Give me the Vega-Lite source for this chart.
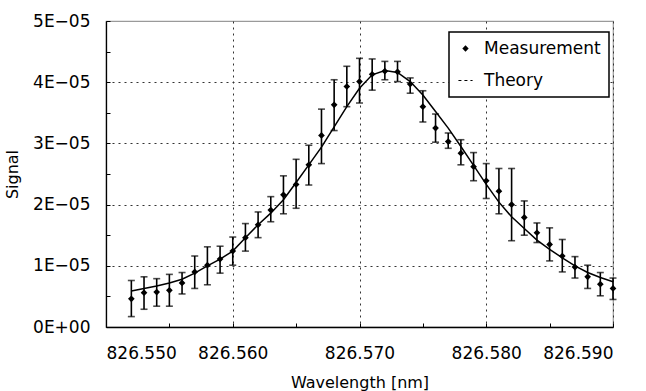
{
  "$schema": "https://vega.github.io/schema/vega-lite/v6.json",
  "autosize": "none",
  "width": 507,
  "height": 306,
  "padding": {"left": 106, "top": 21, "right": 33, "bottom": 64},
  "background": "white",
  "config": {
    "font": "DejaVu Sans",
    "view": {"stroke": "#9a9a9a", "strokeWidth": 1.2},
    "axis": {
      "domainColor": "black",
      "domainWidth": 1.3,
      "tickColor": "black",
      "tickWidth": 1,
      "labelColor": "black",
      "titleColor": "black",
      "labelFont": "DejaVu Sans",
      "titleFont": "DejaVu Sans",
      "labelFontSize": 17,
      "titleFontSize": 16,
      "titleFontWeight": "normal",
      "gridColor": "#333333",
      "gridDash": [2, 4],
      "gridWidth": 1
    },
    "legend": {
      "orient": "none",
      "legendX": 343,
      "legendY": 11,
      "labelFontSize": 17,
      "labelFont": "DejaVu Sans",
      "labelColor": "black",
      "fillColor": "white",
      "strokeColor": "black",
      "strokeWidth": 1.5,
      "padding": 8,
      "rowPadding": 14,
      "labelOffset": 10,
      "symbolSize": 40
    }
  },
  "data": {
    "values": [
      {"wavelength": 826.552, "signal": 4.6e-6, "lo": 1.7e-6, "hi": 7.6e-6, "theory": 5.9e-6},
      {"wavelength": 826.553, "signal": 5.6e-6, "lo": 2.9e-6, "hi": 8.2e-6, "theory": 6.3e-6},
      {"wavelength": 826.554, "signal": 5.7e-6, "lo": 3.4e-6, "hi": 7.9e-6, "theory": 6.7e-6},
      {"wavelength": 826.555, "signal": 6.0e-6, "lo": 3.4e-6, "hi": 8.6e-6, "theory": 7.2e-6},
      {"wavelength": 826.556, "signal": 7.2e-6, "lo": 5.4e-6, "hi": 8.9e-6, "theory": 7.8e-6},
      {"wavelength": 826.557, "signal": 9.0e-6, "lo": 6.3e-6, "hi": 1.16e-5, "theory": 8.8e-6},
      {"wavelength": 826.558, "signal": 1.01e-5, "lo": 6.9e-6, "hi": 1.31e-5, "theory": 1.0e-5},
      {"wavelength": 826.559, "signal": 1.11e-5, "lo": 8.8e-6, "hi": 1.32e-5, "theory": 1.11e-5},
      {"wavelength": 826.560, "signal": 1.24e-5, "lo": 1.01e-5, "hi": 1.47e-5, "theory": 1.24e-5},
      {"wavelength": 826.561, "signal": 1.46e-5, "lo": 1.24e-5, "hi": 1.69e-5, "theory": 1.46e-5},
      {"wavelength": 826.562, "signal": 1.67e-5, "lo": 1.46e-5, "hi": 1.88e-5, "theory": 1.67e-5},
      {"wavelength": 826.563, "signal": 1.91e-5, "lo": 1.72e-5, "hi": 2.13e-5, "theory": 1.86e-5},
      {"wavelength": 826.564, "signal": 2.16e-5, "lo": 1.85e-5, "hi": 2.47e-5, "theory": 2.08e-5},
      {"wavelength": 826.565, "signal": 2.33e-5, "lo": 1.94e-5, "hi": 2.74e-5, "theory": 2.36e-5},
      {"wavelength": 826.566, "signal": 2.65e-5, "lo": 2.32e-5, "hi": 2.97e-5, "theory": 2.65e-5},
      {"wavelength": 826.567, "signal": 3.13e-5, "lo": 2.67e-5, "hi": 3.56e-5, "theory": 2.94e-5},
      {"wavelength": 826.568, "signal": 3.63e-5, "lo": 3.21e-5, "hi": 4.04e-5, "theory": 3.27e-5},
      {"wavelength": 826.569, "signal": 3.93e-5, "lo": 3.60e-5, "hi": 4.26e-5, "theory": 3.60e-5},
      {"wavelength": 826.570, "signal": 4.01e-5, "lo": 3.66e-5, "hi": 4.39e-5, "theory": 3.90e-5},
      {"wavelength": 826.571, "signal": 4.13e-5, "lo": 3.87e-5, "hi": 4.38e-5, "theory": 4.12e-5},
      {"wavelength": 826.572, "signal": 4.18e-5, "lo": 4.04e-5, "hi": 4.34e-5, "theory": 4.19e-5},
      {"wavelength": 826.573, "signal": 4.17e-5, "lo": 4.01e-5, "hi": 4.34e-5, "theory": 4.16e-5},
      {"wavelength": 826.574, "signal": 3.97e-5, "lo": 3.82e-5, "hi": 4.07e-5, "theory": 4.01e-5},
      {"wavelength": 826.575, "signal": 3.60e-5, "lo": 3.35e-5, "hi": 3.86e-5, "theory": 3.79e-5},
      {"wavelength": 826.576, "signal": 3.25e-5, "lo": 3.02e-5, "hi": 3.48e-5, "theory": 3.52e-5},
      {"wavelength": 826.577, "signal": 3.03e-5, "lo": 2.92e-5, "hi": 3.17e-5, "theory": 3.25e-5},
      {"wavelength": 826.578, "signal": 2.84e-5, "lo": 2.65e-5, "hi": 3.06e-5, "theory": 2.95e-5},
      {"wavelength": 826.579, "signal": 2.62e-5, "lo": 2.39e-5, "hi": 2.85e-5, "theory": 2.64e-5},
      {"wavelength": 826.580, "signal": 2.39e-5, "lo": 2.10e-5, "hi": 2.67e-5, "theory": 2.33e-5},
      {"wavelength": 826.581, "signal": 2.22e-5, "lo": 1.85e-5, "hi": 2.59e-5, "theory": 2.04e-5},
      {"wavelength": 826.582, "signal": 2.00e-5, "lo": 1.41e-5, "hi": 2.59e-5, "theory": 1.80e-5},
      {"wavelength": 826.583, "signal": 1.79e-5, "lo": 1.50e-5, "hi": 2.06e-5, "theory": 1.61e-5},
      {"wavelength": 826.584, "signal": 1.54e-5, "lo": 1.38e-5, "hi": 1.70e-5, "theory": 1.42e-5},
      {"wavelength": 826.585, "signal": 1.35e-5, "lo": 1.08e-5, "hi": 1.62e-5, "theory": 1.27e-5},
      {"wavelength": 826.586, "signal": 1.16e-5, "lo": 9.0e-6, "hi": 1.43e-5, "theory": 1.13e-5},
      {"wavelength": 826.587, "signal": 9.8e-6, "lo": 8.0e-6, "hi": 1.15e-5, "theory": 1.0e-5},
      {"wavelength": 826.588, "signal": 8.2e-6, "lo": 6.3e-6, "hi": 1.01e-5, "theory": 8.9e-6},
      {"wavelength": 826.589, "signal": 7.0e-6, "lo": 5.1e-6, "hi": 8.9e-6, "theory": 8.1e-6},
      {"wavelength": 826.590, "signal": 6.3e-6, "lo": 4.5e-6, "hi": 8.0e-6, "theory": 7.4e-6}
    ]
  },
  "encoding": {
    "x": {
      "field": "wavelength",
      "type": "quantitative",
      "scale": {"domain": [826.55, 826.59], "nice": false, "zero": false},
      "axis": {
        "title": "Wavelength [nm]",
        "values": [826.55, 826.555, 826.56, 826.565, 826.57, 826.575, 826.58, 826.585, 826.59],
        "labelExpr": "round(datum.value*1000) % 10 == 0 ? format(datum.value, '.3f') : ''",
        "tickSize": -4,
        "labelPadding": 22,
        "grid": true,
        "gridOpacity": {"condition": {"test": "round(datum.value*1000) % 10 == 0", "value": 1}, "value": 0},
        "titleBaseline": "alphabetic",
        "titleY": 60
      }
    },
    "y": {
      "type": "quantitative",
      "scale": {"domain": [0, 5e-5], "nice": false},
      "axis": {
        "title": "Signal",
        "values": [0, 5e-6, 1e-5, 1.5e-5, 2e-5, 2.5e-5, 3e-5, 3.5e-5, 4e-5, 4.5e-5, 5e-5],
        "labelExpr": "round(datum.value*1e6) % 10 != 0 ? '' : (datum.value == 0 ? '0E+00' : round(datum.value*1e5) + 'E\u221205')",
        "tickSize": -4,
        "labelPadding": 20,
        "grid": true,
        "gridOpacity": {"condition": {"test": "round(datum.value*1e6) % 10 == 0 && datum.value > 0 && datum.value < 5e-5", "value": 1}, "value": 0},
        "titleX": -94,
        "titleY": 153,
        "titleBaseline": "middle"
      }
    }
  },
  "layer": [
    {
      "mark": {"type": "errorbar", "ticks": {"size": 7, "color": "black"}, "thickness": 1.6, "color": "black"},
      "encoding": {
        "y": {"field": "lo", "type": "quantitative"},
        "y2": {"field": "hi"}
      }
    },
    {
      "mark": {"type": "point", "shape": "diamond", "filled": true, "size": 45, "opacity": 1},
      "encoding": {
        "y": {"field": "signal", "type": "quantitative"},
        "color": {
          "datum": "Measurement",
          "scale": {"domain": ["Measurement", "Theory"], "range": ["black", "black"]},
          "legend": {
            "title": null,
            "symbolType": "diamond",
            "encode": {
              "symbols": {
                "update": {
                  "shape": {"signal": "(datum.value == 'Theory' || datum.label == 'Theory') ? 'stroke' : 'diamond'"},
                  "fill": {"signal": "(datum.value == 'Theory' || datum.label == 'Theory') ? 'transparent' : 'black'"},
                  "stroke": {"value": "black"},
                  "strokeWidth": {"signal": "(datum.value == 'Theory' || datum.label == 'Theory') ? 1.2 : 0"},
                  "strokeDash": {"signal": "(datum.value == 'Theory' || datum.label == 'Theory') ? [3, 3] : [1, 0]"},
                  "size": {"signal": "(datum.value == 'Theory' || datum.label == 'Theory') ? 200 : 40"}
                }
              }
            }
          }
        }
      }
    },
    {
      "mark": {"type": "line", "strokeWidth": 1.5},
      "encoding": {
        "y": {"field": "theory", "type": "quantitative"},
        "color": {
          "datum": "Theory",
          "legend": {
            "title": null,
            "symbolType": "diamond",
            "encode": {
              "symbols": {
                "update": {
                  "shape": {"signal": "(datum.value == 'Theory' || datum.label == 'Theory') ? 'stroke' : 'diamond'"},
                  "fill": {"signal": "(datum.value == 'Theory' || datum.label == 'Theory') ? 'transparent' : 'black'"},
                  "stroke": {"value": "black"},
                  "strokeWidth": {"signal": "(datum.value == 'Theory' || datum.label == 'Theory') ? 1.2 : 0"},
                  "strokeDash": {"signal": "(datum.value == 'Theory' || datum.label == 'Theory') ? [3, 3] : [1, 0]"},
                  "size": {"signal": "(datum.value == 'Theory' || datum.label == 'Theory') ? 200 : 40"}
                }
              }
            }
          }
        }
      }
    }
  ]
}
